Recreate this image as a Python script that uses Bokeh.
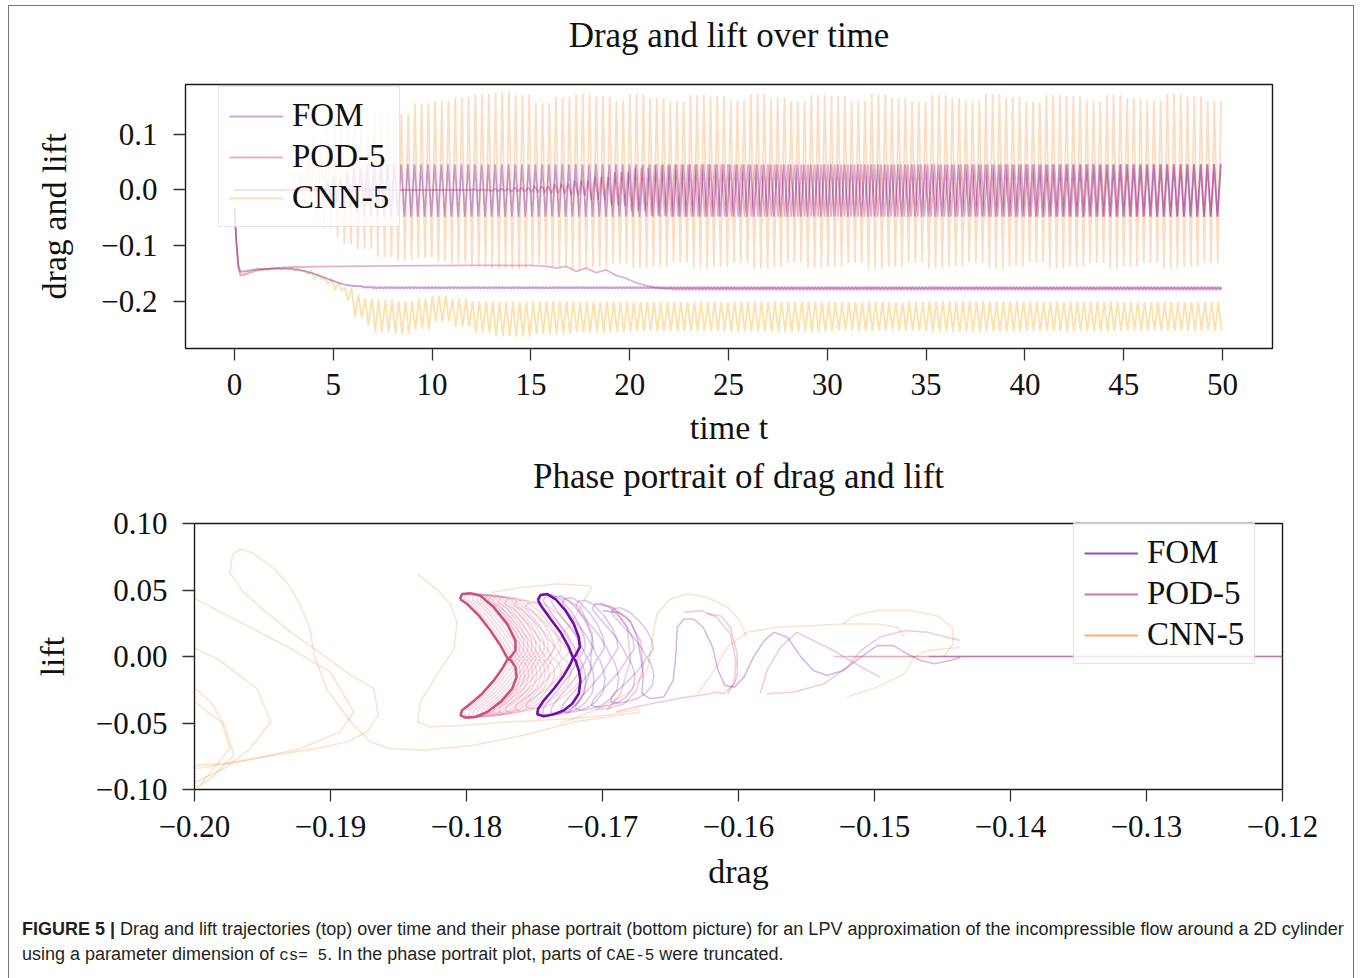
from bisect import bisect_right
from bokeh.plotting import figure
from bokeh.models import Range1d, FixedTicker, CustomJSTickFormatter, Legend, LegendItem, Div
from bokeh.embed import file_html
from bokeh.resources import INLINE

# =============================== DATA ===============================
time_ticks = [0, 5, 10, 15, 20, 25, 30, 35, 40, 45, 50]
dl_ticks = [-0.2, -0.1, 0.0, 0.1]
drag_ticks = [-0.20, -0.19, -0.18, -0.17, -0.16, -0.15, -0.14, -0.13, -0.12]
lift_ticks = [-0.10, -0.05, 0.00, 0.05, 0.10]
series_names = ["FOM", "POD-5", "CNN-5"]

t_end = 50.0
lift_period = 0.34          # shedding period read from the lift oscillation
pod_lift_period = 0.337
wake_drag_period = 0.17     # drag ripple runs at twice the lift frequency
cnn_drag_period = 0.34

# ---- FOM (top panel) ----
fom_drag_t = [0.0, 0.1, 0.2, 0.3, 0.5, 0.8, 1.2, 2.0, 2.8, 3.0, 3.5, 4.0, 4.5, 5.0, 5.5, 6.0]
fom_drag_v = [-0.032, -0.095, -0.135, -0.146, -0.146, -0.144, -0.142, -0.141, -0.141, -0.142,
              -0.145, -0.150, -0.156, -0.163, -0.169, -0.172]
fom_drag_env_t = [6.0, 6.5, 7.0]
fom_drag_env_hi = [-0.1715, -0.1728, -0.1735]
fom_drag_env_lo = [-0.1730, -0.1755, -0.1765]
fom_lift_t = [0.0, 3.5]
fom_lift_v = [0.0, 0.0]
fom_lift_env_t = [3.5, 4.0, 4.5, 5.0, 5.5, 6.0, 6.5, 7.0]
fom_lift_env_hi = [0.002, 0.006, 0.013, 0.022, 0.031, 0.039, 0.044, 0.046]
fom_lift_env_lo = [-0.002, -0.006, -0.013, -0.022, -0.032, -0.040, -0.046, -0.048]

# ---- POD-5 (top panel) ----
pod_drag_t = [0.0, 0.1, 0.2, 0.3, 0.5, 0.8, 1.2, 2.0, 3.0, 5.0, 8.0, 12.0, 15.0, 15.8, 16.3,
              16.8, 17.3, 17.8, 18.3, 18.8, 19.3, 19.8, 20.3, 20.8, 21.3, 22.0]
pod_drag_v = [-0.032, -0.097, -0.140, -0.153, -0.152, -0.148, -0.144, -0.140, -0.138, -0.137,
              -0.136, -0.135, -0.135, -0.137, -0.140, -0.137, -0.146, -0.140, -0.148, -0.143,
              -0.153, -0.158, -0.166, -0.171, -0.175, -0.177]
pod_drag_env_t = [22.0]
pod_drag_env_hi = [-0.1755]
pod_drag_env_lo = [-0.1795]
pod_lift_t = [0.0, 12.0]
pod_lift_v = [0.0, 0.0]
pod_lift_env_t = [12.0, 13.0, 14.0, 15.0, 16.0, 17.0, 18.0, 19.0, 20.0, 21.0, 22.0]
pod_lift_env_hi = [0.001, 0.002, 0.004, 0.007, 0.011, 0.017, 0.024, 0.032, 0.040, 0.045, 0.046]
pod_lift_env_lo = [-0.001, -0.002, -0.003, -0.004, -0.006, -0.010, -0.018, -0.028, -0.038, -0.046, -0.048]

# ---- CNN-5 (top panel) ----
cnn_drag_t = [0.0, 0.1, 0.2, 0.3, 0.5, 0.8, 1.0]
cnn_drag_v = [-0.032, -0.097, -0.140, -0.152, -0.150, -0.145, -0.143]
cnn_drag_env_t = [1.0, 2.0, 3.0, 3.5, 4.0, 4.5, 5.0, 5.5, 6.0, 6.5, 7.0, 8.0, 9.0, 10.0, 11.0,
                  12.0, 13.0, 14.0, 15.0, 17.0, 20.0, 25.0, 30.0, 35.0, 40.0, 45.0]
cnn_drag_env_hi = [-0.140, -0.139, -0.140, -0.144, -0.150, -0.158, -0.166, -0.176, -0.188, -0.194,
                   -0.197, -0.199, -0.194, -0.190, -0.195, -0.199, -0.201, -0.200, -0.199, -0.200,
                   -0.201, -0.200, -0.201, -0.199, -0.200, -0.201]
cnn_drag_env_lo = [-0.144, -0.143, -0.145, -0.151, -0.160, -0.168, -0.180, -0.198, -0.228, -0.243,
                   -0.254, -0.258, -0.250, -0.236, -0.245, -0.256, -0.262, -0.263, -0.258, -0.255,
                   -0.253, -0.254, -0.252, -0.254, -0.253, -0.252]
cnn_lift_t = [0.0, 2.5]
cnn_lift_v = [0.0, 0.0]
cnn_lift_env_t = [2.5, 3.0, 3.5, 4.0, 4.5, 5.0, 5.5, 6.0, 7.0, 8.0, 9.0, 10.0, 11.0, 12.0, 13.0,
                  14.0, 15.0, 16.0, 17.0, 18.0, 19.0, 20.0, 21.0, 22.0, 23.0, 24.0, 25.0, 26.0,
                  27.0, 28.0, 29.0, 30.0, 31.0, 32.0, 33.0, 34.0, 35.0, 36.0, 37.0, 38.0, 39.0,
                  40.0, 41.0, 42.0, 43.0, 44.0, 45.0, 46.0, 47.0, 48.0, 49.0]
cnn_lift_env_hi = [0.010, 0.030, 0.060, 0.090, 0.115, 0.130, 0.140, 0.145, 0.140, 0.136, 0.155,
                   0.160, 0.166, 0.172, 0.175, 0.170, 0.156, 0.166, 0.172, 0.168, 0.160, 0.172,
                   0.165, 0.158, 0.170, 0.168, 0.160, 0.172, 0.165, 0.158, 0.170, 0.168, 0.160,
                   0.172, 0.165, 0.158, 0.170, 0.165, 0.160, 0.172, 0.166, 0.158, 0.170, 0.168,
                   0.160, 0.170, 0.165, 0.160, 0.172, 0.168, 0.160]
cnn_lift_env_lo = [-0.005, -0.015, -0.030, -0.050, -0.068, -0.085, -0.097, -0.106, -0.120, -0.126,
                   -0.122, -0.128, -0.132, -0.136, -0.140, -0.142, -0.134, -0.138, -0.142, -0.138,
                   -0.132, -0.140, -0.137, -0.130, -0.140, -0.138, -0.131, -0.141, -0.137, -0.130,
                   -0.140, -0.138, -0.131, -0.141, -0.137, -0.130, -0.140, -0.137, -0.131, -0.141,
                   -0.137, -0.130, -0.140, -0.138, -0.131, -0.140, -0.137, -0.131, -0.141, -0.138,
                   -0.131]

# ---- phase portrait (bottom panel): (drag, lift) ----
fom_cycle_drag = [-0.17476, -0.17456, -0.17407, -0.17346, -0.17272, -0.17211, -0.17174, -0.17167,
                  -0.17199, -0.17216, -0.17235, -0.17284, -0.17358, -0.17431, -0.17473, -0.17480,
                  -0.17431, -0.17358, -0.17284, -0.17223, -0.17174, -0.17162, -0.17174, -0.17199,
                  -0.17216, -0.17248, -0.17309, -0.17382, -0.17444, -0.17476]
fom_cycle_lift = [0.04247, 0.04622, 0.04697, 0.04322, 0.03448, 0.02448, 0.01449, 0.00699,
                  0.00075, -0.00100, -0.00550, -0.01425, -0.02424, -0.03299, -0.03923, -0.04348,
                  -0.04498, -0.04348, -0.04048, -0.03549, -0.02799, -0.01800, -0.01050, -0.00300,
                  -0.00100, 0.00699, 0.01824, 0.02823, 0.03698, 0.04247]
fom_loop_shift = [0.0004, 0.0010, 0.0018, 0.0028, 0.0040, 0.0054]
fom_loop_scale = [0.99, 0.97, 0.94, 0.90, 0.85, 0.78]
fom_strand_drag = [-0.1700, -0.1688, -0.1679, -0.1674, -0.1672, -0.1670, -0.1671, -0.1665, -0.1655,
                   -0.1648, -0.1646, -0.1645, -0.1640, -0.1633, -0.1626, -0.1619, -0.1615, -0.1610,
                   -0.1603, -0.1596, -0.1589, -0.1581, -0.1574, -0.1564, -0.1554, -0.1545, -0.1535,
                   -0.1523, -0.1510, -0.1498, -0.1486, -0.1476, -0.1466, -0.1456, -0.1444, -0.1437]
fom_strand_lift = [0.0345, 0.0330, 0.0260, 0.0130, 0.0000, -0.0143, -0.0280, -0.0317, -0.0305,
                   -0.0180, 0.0020, 0.0220, 0.0282, 0.0282, 0.0220, 0.0070, -0.0105, -0.0217,
                   -0.0230, -0.0155, -0.0005, 0.0120, 0.0182, 0.0145, -0.0005, -0.0105, -0.0143,
                   -0.0105, -0.0005, 0.0082, 0.0082, 0.0020, -0.0030, -0.0055, -0.0030, -0.0005]

pod_cycle_drag = [-0.18049, -0.18032, -0.17971, -0.17897, -0.17799, -0.17701, -0.17640, -0.17640,
                  -0.17677, -0.17696, -0.17738, -0.17799, -0.17885, -0.17971, -0.18032, -0.18044,
                  -0.18007, -0.17934, -0.17848, -0.17750, -0.17664, -0.17632, -0.17640, -0.17672,
                  -0.17696, -0.17750, -0.17824, -0.17909, -0.17995, -0.18049]
pod_cycle_lift = [0.04323, 0.04698, 0.04748, 0.04573, 0.03698, 0.02449, 0.01199, 0.00450,
                  -0.00050, -0.00175, -0.00924, -0.01799, -0.02799, -0.03548, -0.04048, -0.04423,
                  -0.04598, -0.04548, -0.04173, -0.03423, -0.02424, -0.01549, -0.00800, -0.00300,
                  -0.00175, 0.00825, 0.01949, 0.03073, 0.03948, 0.04323]
pod_loop_shift = [0.0003, 0.0006, 0.0009, 0.0012, 0.0015, 0.0018, 0.0021, 0.0024, 0.0028, 0.0033,
                  0.0040, 0.0048]
pod_loop_scale = [1.00, 0.99, 0.99, 0.98, 0.98, 0.97, 0.96, 0.95, 0.94, 0.92, 0.89, 0.85]
pod_paths_drag = [
    [-0.17309, -0.17162, -0.17076, -0.17088, -0.17162, -0.17260],
    [-0.17015, -0.16917, -0.16819, -0.16794, -0.16868, -0.16966],
    [-0.1706, -0.1694, -0.1682, -0.1672, -0.1670, -0.1675, -0.1684, -0.1697, -0.1705],
    [-0.1690, -0.1670, -0.1645, -0.1621, -0.1616],
    [-0.1640, -0.1628, -0.1616, -0.1606, -0.1602, -0.1603, -0.1611, -0.1616],
    [-0.1623, -0.1613, -0.1606, -0.1601, -0.1601, -0.1608],
    [-0.1584, -0.1579, -0.1569, -0.1557, -0.1545, -0.1530, -0.1518, -0.1505, -0.1496],
    [-0.1579, -0.1559, -0.1537, -0.1520, -0.1510, -0.1496, -0.1478, -0.1461, -0.1447, -0.1437],
]
pod_paths_lift = [
    [0.04448, 0.03698, 0.01699, -0.01049, -0.03299, -0.04298],
    [0.03948, 0.03698, 0.02198, -0.00300, -0.02799, -0.04048],
    [0.0395, 0.0370, 0.0295, 0.0120, -0.0080, -0.0255, -0.0355, -0.0392, -0.0400],
    [-0.0415, -0.0367, -0.0317, -0.0280, -0.0267],
    [0.0332, 0.0345, 0.0295, 0.0170, -0.0030, -0.0205, -0.0280, -0.0267],
    [0.0320, 0.0307, 0.0220, 0.0020, -0.0155, -0.0280],
    [-0.0280, -0.0105, 0.0070, 0.0182, 0.0120, 0.0045, -0.0030, -0.0105, -0.0155],
    [-0.0280, -0.0267, -0.0205, -0.0080, 0.0045, 0.0145, 0.0195, 0.0182, 0.0145, 0.0120],
]

cnn_paths_drag = [
    [-0.1999, -0.1966, -0.1929, -0.1900, -0.1883, -0.1893, -0.1922, -0.1966, -0.1999],
    [-0.1974, -0.1972, -0.1966, -0.1958, -0.1944, -0.1932, -0.1922, -0.1915, -0.1912, -0.1903,
     -0.1885, -0.1871, -0.1856, -0.1831, -0.1795, -0.1758, -0.1721, -0.1672],
    [-0.1974, -0.1964, -0.1947, -0.1929, -0.1905, -0.1885, -0.1868, -0.1865, -0.1873, -0.1888,
     -0.1910, -0.1942, -0.1978, -0.1999],
    [-0.1999, -0.1983, -0.1954, -0.1944, -0.1959, -0.1978, -0.1999],
    [-0.1999, -0.1988, -0.1978, -0.1971, -0.1988, -0.1999],
    [-0.1999, -0.1991, -0.1980, -0.1974, -0.1996],
    [-0.1836, -0.1822, -0.1812, -0.1807, -0.1809, -0.1822, -0.1834, -0.1836, -0.1827, -0.1802,
     -0.1770, -0.1746, -0.1721, -0.1697, -0.1672],
    [-0.1782, -0.1758, -0.1733, -0.1710, -0.1708, -0.1712, -0.1721, -0.1733, -0.1743],
    [-0.1731, -0.1706, -0.1682, -0.1667, -0.1664, -0.1660, -0.1650, -0.1638, -0.1623, -0.1608,
     -0.1599, -0.1594],
    [-0.1630, -0.1618, -0.1608, -0.1594, -0.1572, -0.1547, -0.1523, -0.1498, -0.1483, -0.1478],
    [-0.1520, -0.1498, -0.1478, -0.1471, -0.1461, -0.1437],
    [-0.1523, -0.1515, -0.1498, -0.1474, -0.1454, -0.1443, -0.1442, -0.1449],
]
cnn_paths_lift = [
    [0.0432, 0.0257, 0.0058, -0.0117, -0.0417, -0.0567, -0.0692, -0.0792, -0.0842],
    [0.0632, 0.0770, 0.0807, 0.0782, 0.0682, 0.0557, 0.0382, 0.0207, 0.0008, -0.0242,
     -0.0492, -0.0642, -0.0692, -0.0705, -0.0667, -0.0592, -0.0492, -0.0417],
    [0.0632, 0.0482, 0.0332, 0.0182, 0.0008, -0.0142, -0.0242, -0.0442, -0.0567, -0.0642,
     -0.0692, -0.0742, -0.0805, -0.0817],
    [0.0058, -0.0018, -0.0242, -0.0492, -0.0692, -0.0842, -0.0942],
    [-0.0242, -0.0342, -0.0517, -0.0742, -0.0917, -0.0992],
    [-0.0342, -0.0417, -0.0492, -0.0692, -0.0967],
    [0.0620, 0.0507, 0.0395, 0.0257, 0.0058, -0.0142, -0.0342, -0.0492, -0.0530, -0.0517,
     -0.0492, -0.0480, -0.0467, -0.0442, -0.0392],
    [0.0482, 0.0520, 0.0545, 0.0532, 0.0515, 0.0450, 0.0282, 0.0107, -0.0068],
    [-0.0505, -0.0405, -0.0280, -0.0105, 0.0095, 0.0320, 0.0432, 0.0470, 0.0445, 0.0370,
     0.0270, 0.0145],
    [-0.0280, -0.0105, 0.0070, 0.0182, 0.0220, 0.0232, 0.0245, 0.0245, 0.0220, 0.0145],
    [-0.0305, -0.0230, -0.0130, -0.0005, 0.0045, 0.0070],
    [0.0245, 0.0307, 0.0345, 0.0345, 0.0307, 0.0220, 0.0095, -0.0005],
]

titles = ["Drag and lift over time", "Phase portrait of drag and lift"]
caption_html = ("<b>FIGURE 5 |</b> Drag and lift trajectories (top) over time and their phase portrait "
                "(bottom picture) for an LPV approximation of the incompressible flow around a 2D cylinder"
                "<br>using a parameter dimension of <span style=\"font-family:'Liberation Mono';font-size:16px\">"
                "cs=&nbsp;5</span>. In the phase portrait plot, parts of "
                "<span style=\"font-family:'Liberation Mono';font-size:16px\">CAE-5</span> were truncated.")

# =============================== BUILD ===============================
SERIF = "Liberation Serif"
C_FOM, C_POD, C_CNN, C_CNN_D = "#6a00a8", "#cc4778", "#f89540", "#fdb42f"
W = 1346


def build_series(tr_t, tr_v, period, env_t, env_hi, env_lo):
    ts, vs = list(tr_t), list(tr_v)
    t0 = tr_t[-1]
    half = period / 2.0
    k = 1
    while t0 + k * half <= t_end + 1e-9:
        t = t0 + k * half
        i = max(bisect_right(env_t, t + 1e-9) - 1, 0)
        vs.append(env_hi[i] if k % 2 == 1 else env_lo[i])
        ts.append(t)
        k += 1
    return ts, vs


def fmt(decimals):
    return CustomJSTickFormatter(code=(
        "const s = Math.abs(tick).toFixed(%d);"
        "return (tick < -1e-9 ? '\u2212' : '') + s;" % decimals))


def style(p, title, title_standoff, xlabel, ylabel, xticks, yticks, xdec, ydec,
          xmaj_standoff, xlab_standoff, ylab_standoff, y_major_standoff):
    p.title.text = title
    p.title.align = "center"
    p.title.text_font = SERIF
    p.title.text_font_size = "35px"
    p.title.text_font_style = "normal"
    p.title.text_color = "#111111"
    p.title.standoff = title_standoff
    p.xgrid.visible = False
    p.ygrid.visible = False
    p.outline_line_color = "#1a1a1a"
    p.outline_line_width = 1.4
    p.background_fill_color = "white"
    p.border_fill_color = None
    p.xaxis.ticker = FixedTicker(ticks=xticks)
    p.yaxis.ticker = FixedTicker(ticks=yticks)
    p.xaxis.formatter = fmt(xdec)
    p.yaxis.formatter = fmt(ydec)
    p.xaxis.axis_label = xlabel
    p.yaxis.axis_label = ylabel
    for ax in (p.xaxis[0], p.yaxis[0]):
        ax.axis_line_color = None
        ax.major_tick_out = 12
        ax.major_tick_in = 0
        ax.minor_tick_out = 0
        ax.minor_tick_in = 0
        ax.major_tick_line_color = "#333333"
        ax.major_tick_line_width = 1.3
        ax.major_label_text_font = SERIF
        ax.major_label_text_font_size = "31px"
        ax.major_label_text_color = "#111111"
        ax.axis_label_text_font = SERIF
        ax.axis_label_text_font_size = "34px"
        ax.axis_label_text_font_style = "normal"
        ax.axis_label_text_color = "#111111"
    p.xaxis.major_label_standoff = xmaj_standoff
    p.yaxis.major_label_standoff = y_major_standoff
    p.xaxis.axis_label_standoff = xlab_standoff
    p.yaxis.axis_label_standoff = ylab_standoff


def make_legend(items, loc):
    leg = Legend(items=items, location=loc)
    leg.label_text_font = SERIF
    leg.label_text_font_size = "33px"
    leg.label_text_color = "#111111"
    leg.glyph_width = 54
    leg.glyph_height = 36
    leg.label_height = 36
    leg.label_standoff = 9
    leg.spacing = 4
    leg.padding = 10
    leg.margin = 0
    leg.border_line_color = "#cccccc"
    leg.border_line_width = 1.5
    leg.background_fill_color = "white"
    leg.background_fill_alpha = 0.8
    return leg


# ---------------- top: drag and lift over time ----------------
p1 = figure(width=W, height=475, x_range=Range1d(-2.48, 52.53), y_range=Range1d(-0.284, 0.189),
            output_backend="svg", toolbar_location=None,
            min_border_left=176, min_border_right=83, min_border_top=60, min_border_bottom=110)
style(p1, titles[0], 60, "time t", "drag and lift", time_ticks, dl_ticks, 0, 1,
      13, 11, 25, 16)
p1.margin = (-17, 0, 0, 9)

cd_t, cd_v = build_series(cnn_drag_t, cnn_drag_v, cnn_drag_period, cnn_drag_env_t, cnn_drag_env_hi, cnn_drag_env_lo)
cl_t, cl_v = build_series(cnn_lift_t, cnn_lift_v, lift_period, cnn_lift_env_t, cnn_lift_env_hi, cnn_lift_env_lo)
pd_t, pd_v = build_series(pod_drag_t, pod_drag_v, wake_drag_period, pod_drag_env_t, pod_drag_env_hi, pod_drag_env_lo)
pl_t, pl_v = build_series(pod_lift_t, pod_lift_v, pod_lift_period, pod_lift_env_t, pod_lift_env_hi, pod_lift_env_lo)
fd_t, fd_v = build_series(fom_drag_t, fom_drag_v, wake_drag_period, fom_drag_env_t, fom_drag_env_hi, fom_drag_env_lo)
fl_t, fl_v = build_series(fom_lift_t, fom_lift_v, lift_period, fom_lift_env_t, fom_lift_env_hi, fom_lift_env_lo)

p1.line(cd_t, cd_v, color=C_CNN_D, alpha=0.42, line_width=1.8)
r_cnn = p1.line(cl_t, cl_v, color=C_CNN, alpha=0.32, line_width=1.8)
p1.line(pd_t, pd_v, color=C_POD, alpha=0.42, line_width=1.8)
r_pod = p1.line(pl_t, pl_v, color=C_POD, alpha=0.42, line_width=1.8)
p1.line(fd_t, fd_v, color=C_FOM, alpha=0.38, line_width=1.8)
r_fom = p1.line(fl_t, fl_v, color=C_FOM, alpha=0.35, line_width=1.8)

p1.add_layout(make_legend([LegendItem(label=series_names[0], renderers=[r_fom]),
                           LegendItem(label=series_names[1], renderers=[r_pod]),
                           LegendItem(label=series_names[2], renderers=[r_cnn])], (33, 121)))

# ---------------- bottom: phase portrait ----------------
p2 = figure(width=W, height=474, x_range=Range1d(-0.20, -0.12), y_range=Range1d(-0.10, 0.10),
            output_backend="svg", toolbar_location=None,
            min_border_left=185, min_border_right=73, min_border_top=60, min_border_bottom=111)
style(p2, titles[1], 56, "drag", "lift", drag_ticks, lift_ticks, 2, 2,
      14, 13, 22, 15)
p2.margin = (-32, 0, 0, 9)

# CNN-5 trajectories
p2.multi_line(cnn_paths_drag, cnn_paths_lift, color=C_CNN, alpha=0.28, line_width=1.5)
p2.line(cnn_drag_v, [0.0] * len(cnn_drag_v), color=C_CNN, alpha=0.3, line_width=1.5)

# POD-5 trajectories
pod_quiet = [d for t, d in zip(pod_drag_t, pod_drag_v) if t <= pod_lift_t[-1]]
p2.line(pod_quiet, [0.0] * len(pod_quiet), color=C_POD, alpha=0.35, line_width=1.6)
p2.multi_line(pod_paths_drag, pod_paths_lift, color=C_POD, alpha=0.28, line_width=1.6)
p2.multi_line([[d + s for d in pod_cycle_drag] for s in pod_loop_shift],
              [[l * k for l in pod_cycle_lift] for k in pod_loop_scale],
              color=C_POD, alpha=0.2, line_width=1.6)
lg_pod = p2.line(pod_cycle_drag[:1], pod_cycle_lift[:1], color=C_POD, alpha=0.75, line_width=2.2)
p2.line(pod_cycle_drag, pod_cycle_lift, color=C_POD, alpha=0.95, line_width=2.6)

# FOM trajectories
fom_quiet = [d for t, d in zip(fom_drag_t, fom_drag_v) if t <= fom_lift_t[-1]]
p2.line(fom_quiet, [0.0] * len(fom_quiet), color=C_FOM, alpha=0.3, line_width=1.6)
p2.line(fom_strand_drag, fom_strand_lift, color=C_FOM, alpha=0.28, line_width=1.6)
p2.multi_line([[d + s for d in fom_cycle_drag] for s in fom_loop_shift],
              [[l * k for l in fom_cycle_lift] for k in fom_loop_scale],
              color=C_FOM, alpha=0.22, line_width=1.6)
lg_fom = p2.line(fom_cycle_drag[:1], fom_cycle_lift[:1], color="#7e03a8", alpha=0.72, line_width=2.2)
p2.line(fom_cycle_drag, fom_cycle_lift, color=C_FOM, alpha=0.95, line_width=2.6)

lg_cnn = p2.line(cnn_paths_drag[0][:1], cnn_paths_lift[0][:1], color=C_CNN, alpha=0.75, line_width=2.2)

p2.add_layout(make_legend([LegendItem(label=series_names[0], renderers=[lg_fom]),
                           LegendItem(label=series_names[1], renderers=[lg_pod]),
                           LegendItem(label=series_names[2], renderers=[lg_cnn])], (879, 125)))

cap = Div(text=caption_html, width=W, height=77, margin=(0, 0, 0, 9),
          styles={"font-family": "'Liberation Sans', Arial, sans-serif", "font-size": "18px",
                  "line-height": "25px", "color": "#231f20", "padding-left": "13px",
                  "padding-top": "17px", "white-space": "nowrap"})

frame = Div(text="", width=1346, height=1000, margin=0,
            styles={"position": "absolute", "left": "8px", "top": "5px",
                    "border": "1px solid #777777", "pointer-events": "none", "z-index": "10"})

with open("out.html", "w") as f:
    f.write(file_html([frame, p1, p2, cap], INLINE))
